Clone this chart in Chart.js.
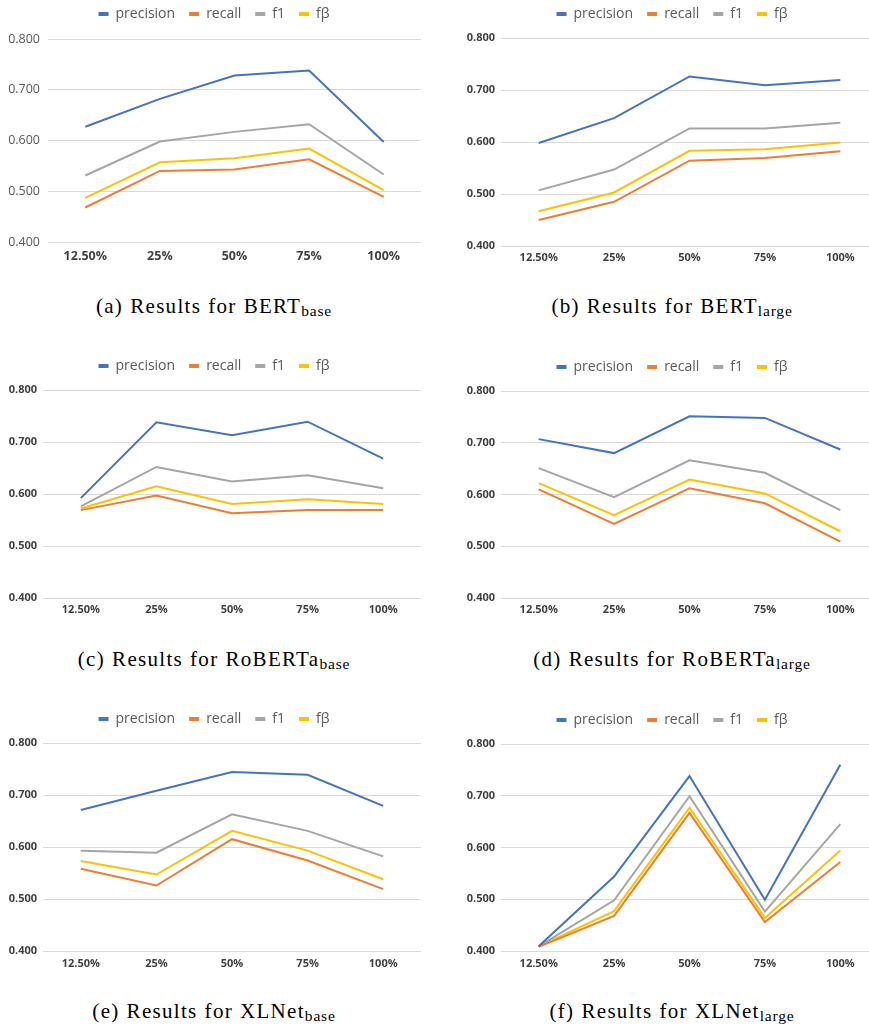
<!DOCTYPE html>
<html>
<head>
<meta charset="utf-8">
<script src="https://cdn.jsdelivr.net/npm/chart.js@4.4.1/dist/chart.umd.min.js"></script>
<style>
  html, body { margin: 0; padding: 0; background: #fff; }
  body { width: 869px; height: 1028px; position: relative; overflow: hidden; }
  canvas { position: absolute; }
  .caption {
    position: absolute; width: 440px; text-align: center; white-space: nowrap;
    font-family: "Liberation Serif", "DejaVu Serif", serif; font-size: 21px; line-height: 22px;
    letter-spacing: 1.3px; word-spacing: 0.5px; color: #000;
  }
  .caption span { font-size: 0.74em; position: relative; top: 0.2em; letter-spacing: 0.8px; }
</style>
</head>
<body>
<script>
// x categories and series names
const categories = ['12.50%', '25%', '50%', '75%', '100%'];
const seriesNames = ['precision', 'recall', 'f1', 'fβ'];
const seriesColors = ['#4472C4', '#ED7D31', '#A5A5A5', '#FFC000'];

// (a) BERT base
const bertBasePrecision = [0.627, 0.682, 0.728, 0.738, 0.597];
const bertBaseRecall    = [0.468, 0.540, 0.543, 0.563, 0.489];
const bertBaseF1        = [0.531, 0.598, 0.617, 0.632, 0.533];
const bertBaseFbeta     = [0.487, 0.557, 0.565, 0.584, 0.502];

// (b) BERT large
const bertLargePrecision = [0.598, 0.646, 0.726, 0.709, 0.719];
const bertLargeRecall    = [0.450, 0.485, 0.564, 0.569, 0.582];
const bertLargeF1        = [0.507, 0.547, 0.626, 0.626, 0.637];
const bertLargeFbeta     = [0.467, 0.503, 0.583, 0.586, 0.599];

// (c) RoBERTa base
const robertaBasePrecision = [0.592, 0.738, 0.713, 0.739, 0.668];
const robertaBaseRecall    = [0.569, 0.597, 0.563, 0.569, 0.569];
const robertaBaseF1        = [0.576, 0.652, 0.624, 0.636, 0.611];
const robertaBaseFbeta     = [0.572, 0.615, 0.581, 0.590, 0.581];

// (d) RoBERTa large
const robertaLargePrecision = [0.707, 0.680, 0.751, 0.748, 0.687];
const robertaLargeRecall    = [0.610, 0.543, 0.612, 0.583, 0.509];
const robertaLargeF1        = [0.651, 0.595, 0.666, 0.642, 0.570];
const robertaLargeFbeta     = [0.622, 0.560, 0.629, 0.602, 0.529];

// (e) XLNet base
const xlnetBasePrecision = [0.671, 0.708, 0.744, 0.739, 0.679];
const xlnetBaseRecall    = [0.558, 0.526, 0.615, 0.574, 0.519];
const xlnetBaseF1        = [0.593, 0.589, 0.663, 0.631, 0.582];
const xlnetBaseFbeta     = [0.573, 0.547, 0.631, 0.593, 0.538];

// (f) XLNet large
const xlnetLargePrecision = [0.409, 0.544, 0.738, 0.499, 0.760];
const xlnetLargeRecall    = [0.408, 0.468, 0.667, 0.456, 0.572];
const xlnetLargeF1        = [0.409, 0.498, 0.699, 0.476, 0.645];
const xlnetLargeFbeta     = [0.409, 0.477, 0.677, 0.464, 0.594];

// y axis range
const yMin = 0.4, yMax = 0.8, yStep = 0.1;

// captions
const captionLabels = ['(a)', '(b)', '(c)', '(d)', '(e)', '(f)'];
const modelNames = ['BERT', 'BERT', 'RoBERTa', 'RoBERTa', 'XLNet', 'XLNet'];
const modelSizes = ['base', 'large', 'base', 'large', 'base', 'large'];

const panelSeries = [
  [bertBasePrecision, bertBaseRecall, bertBaseF1, bertBaseFbeta],
  [bertLargePrecision, bertLargeRecall, bertLargeF1, bertLargeFbeta],
  [robertaBasePrecision, robertaBaseRecall, robertaBaseF1, robertaBaseFbeta],
  [robertaLargePrecision, robertaLargeRecall, robertaLargeF1, robertaLargeFbeta],
  [xlnetBasePrecision, xlnetBaseRecall, xlnetBaseF1, xlnetBaseFbeta],
  [xlnetLargePrecision, xlnetLargeRecall, xlnetLargeF1, xlnetLargeFbeta]
];

// page geometry of each panel (pixels)
const layouts = [
  { col: 0, legendY: 14,  top: 39,  bottom: 242, plotL: 48,  plotR: 421, capY: 312, tick: 12.5, yBold: false, xPad: 7, yPad: 8 },
  { col: 1, legendY: 14,  top: 38,  bottom: 246, plotL: 501, plotR: 878, capY: 312, tick: 11, yBold: true, xPad: 5, yPad: 6 },
  { col: 0, legendY: 366, top: 390, bottom: 598, plotL: 43,  plotR: 421, capY: 665, tick: 11, yBold: true, xPad: 5, yPad: 6 },
  { col: 1, legendY: 367, top: 391, bottom: 598, plotL: 501, plotR: 878, capY: 665, tick: 11, yBold: true, xPad: 5, yPad: 6 },
  { col: 0, legendY: 719, top: 743, bottom: 951, plotL: 43,  plotR: 421, capY: 1017, tick: 11, yBold: true, xPad: 6, yPad: 6 },
  { col: 1, legendY: 720, top: 744, bottom: 951, plotL: 501, plotR: 878, capY: 1017, tick: 11, yBold: true, xPad: 6, yPad: 6 }
];

Chart.defaults.font.family = "'Open Sans', sans-serif";
Chart.defaults.color = '#595959';

const legendFont = 14;
const legendPad = 14;

layouts.forEach(function (lay, i) {
  const colLeft = lay.col === 0 ? 0 : 435;
  const width = lay.col === 0 ? 428 : 474;
  const canvasTop = lay.legendY - legendPad - legendFont / 2;
  const spacer = lay.top - (canvasTop + legendFont + legendPad + 10);
  const xAxisHeight = 30;
  const height = Math.round(lay.bottom - canvasTop + xAxisHeight);

  const canvas = document.createElement('canvas');
  canvas.width = width;
  canvas.height = height;
  canvas.style.left = colLeft + 'px';
  canvas.style.top = canvasTop + 'px';
  document.body.appendChild(canvas);

  const datasets = panelSeries[i].map(function (values, k) {
    return {
      label: seriesNames[k],
      data: values,
      borderColor: seriesColors[k],
      backgroundColor: seriesColors[k],
      borderWidth: 2,
      pointRadius: 0,
      tension: 0,
      fill: false
    };
  });

  new Chart(canvas.getContext('2d'), {
    type: 'line',
    data: { labels: categories, datasets: datasets },
    options: {
      responsive: false,
      animation: false,
      layout: { padding: 0 },
      plugins: {
        tooltip: { enabled: false },
        legend: {
          position: 'top',
          labels: {
            boxWidth: 10,
            boxHeight: 4,
            padding: legendPad,
            color: '#595959',
            font: { size: legendFont },
            generateLabels: function (chart) {
              return Chart.defaults.plugins.legend.labels.generateLabels(chart).map(function (item) {
                item.lineWidth = 0;
                return item;
              });
            }
          }
        },
        // empty title used as a gap between legend and plot
        title: {
          display: true,
          text: '',
          weight: 500,
          padding: { top: spacer, bottom: 0 },
          font: { size: 1, lineHeight: 0 }
        }
      },
      scales: {
        x: {
          type: 'category',
          offset: true,
          grid: { display: false, drawTicks: false },
          border: { display: false },
          ticks: {
            padding: lay.xPad,
            maxRotation: 0,
            color: '#404040',
            font: { size: lay.tick, weight: 'bold' }
          },
          afterFit: function (s) { s.height = xAxisHeight; }
        },
        y: {
          position: 'left',
          min: yMin,
          max: yMax,
          grid: { color: '#D9D9D9', lineWidth: 1, drawTicks: false },
          border: { display: false },
          ticks: {
            stepSize: yStep,
            padding: lay.yPad,
            color: lay.yBold ? '#404040' : '#595959',
            font: { size: lay.tick, weight: lay.yBold ? 'bold' : 'normal' },
            callback: function (v) { return Number(v).toFixed(3); }
          },
          afterFit: function (s) { s.width = lay.plotL - colLeft; }
        },
        // invisible right axis only reserves space on the right of the plot
        y2: {
          position: 'right',
          min: 0,
          max: 1,
          grid: { display: false, drawTicks: false },
          border: { display: false },
          ticks: { display: false },
          afterFit: function (s) { s.width = colLeft + width - lay.plotR; }
        }
      }
    }
  });

  const cap = document.createElement('div');
  cap.className = 'caption';
  cap.style.left = (colLeft + width / 2 - 220) + 'px';
  cap.style.top = (lay.capY - 17) + 'px';
  cap.innerHTML = captionLabels[i] + ' Results for ' + modelNames[i] + '<span>' + modelSizes[i] + '</span>';
  document.body.appendChild(cap);
});
</script>
</body>
</html>
